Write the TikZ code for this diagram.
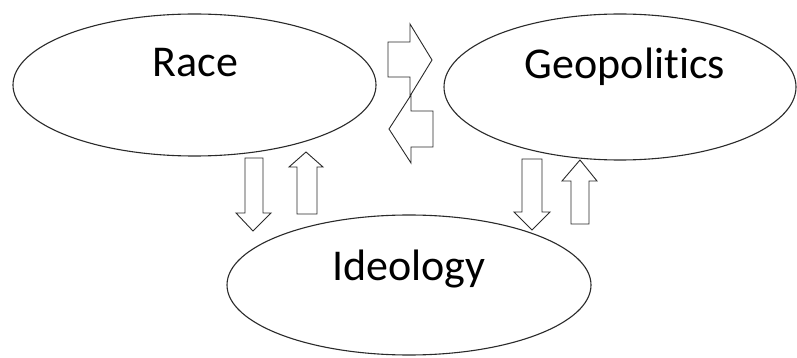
\documentclass[tikz,border=0pt]{standalone}
\usepackage{fontspec}
\setmainfont[Ligatures=NoCommon]{Carlito}
\usetikzlibrary{shapes.geometric}
\definecolor{lncol}{HTML}{2A2A2A}
\tikzset{
  oval/.style={draw=lncol, line width=1.1pt, ellipse, inner sep=0pt, fill=none},
  lbl/.style={anchor=base, inner sep=0pt, font=\fontsize{44}{44}\selectfont, text=black},
  blockarrow/.style={draw=lncol, line width=0.9pt, fill=white, line join=miter},
}
\begin{document}
\begin{tikzpicture}[x=1pt, y=-1pt]
\useasboundingbox (0,0) rectangle (797,358);
\fill[white] (0,0) rectangle (797,358);
% ellipses
\node[oval, minimum width=363pt, minimum height=142pt] (race) at (194.5,85) {};
\node[oval, minimum width=352pt, minimum height=146pt] (geo) at (620,87) {};
\node[oval, minimum width=364pt, minimum height=140pt] (ideo) at (409,285) {};
% labels
\node[lbl] (racet) at (195.5,77) {Race};
\node[lbl] (geot) at (625,79) {Geopolitics};
\node[lbl] (ideot) at (409,280) {Ideology};
% block arrows between Race and Geopolitics
\draw[blockarrow] (388,42) -- (410,42) -- (410,24) -- (432,60) -- (410,96) -- (410,77) -- (388,77) -- cycle;
\draw[blockarrow] (433,111) -- (411,111) -- (411,95) -- (389,129) -- (411,163) -- (411,147) -- (433,147) -- cycle;
% Race <-> Ideology
\draw[blockarrow] (245,158) -- (263,158) -- (263,213) -- (271,213) -- (253,231) -- (236,213) -- (245,213) -- cycle;
\draw[blockarrow] (297,214) -- (297,167) -- (289,167) -- (306,152) -- (323,167) -- (317,167) -- (317,214) -- cycle;
% Geopolitics <-> Ideology
\draw[blockarrow] (522,159) -- (542,159) -- (542,212) -- (550,212) -- (532,230) -- (514,212) -- (522,212) -- cycle;
\draw[blockarrow] (571,224) -- (571,181) -- (562,181) -- (580,160) -- (597,181) -- (589,181) -- (589,224) -- cycle;
\end{tikzpicture}
\end{document}
